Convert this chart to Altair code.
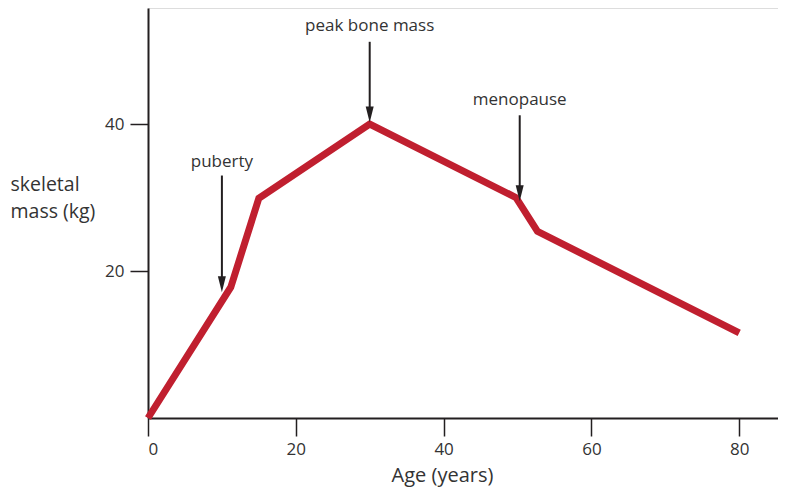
import altair as alt
import pandas as pd

# main curve
age = [0, 11.2, 15.0, 30.0, 49.8, 52.7, 80.0]
mass = [0, 17.8, 29.9, 40.0, 30.0, 25.4, 11.6]

# annotations
ann_label = ["puberty", "peak bone mass", "menopause"]
ann_x = [10, 30, 50.3]
ann_text_y = [34.8, 53.3, 43.3]
ann_top = [33.0, 51.2, 41.2]
ann_tip = [18.2, 41.3, 30.6]

x_ticks = [0, 20, 40, 60, 80]
y_ticks = [20, 40]

FONT = "Open Sans"
TXT = "#333333"
AX = "#231f20"

curve = pd.DataFrame({"age": age, "mass": mass})
ann = pd.DataFrame({"label": ann_label, "x": ann_x, "ty": ann_text_y,
                    "top": ann_top, "tip": ann_tip})

xs = alt.Scale(domain=[0, 85.25], nice=False, zero=False)
ys = alt.Scale(domain=[0, 55.8], nice=False, zero=False)

base = alt.Chart(curve)

line = base.mark_line(color="#c01f2f", strokeWidth=7, strokeJoin="miter", strokeCap="butt").encode(
    x=alt.X("age:Q", scale=xs,
            axis=alt.Axis(values=x_ticks, title="Age (years)", grid=False,
                          domainColor=AX, domainWidth=2, tickColor=AX, tickWidth=1.5,
                          tickSize=18, labelPadding=5, labelFont=FONT, labelFontSize=17,
                          labelColor=TXT, titleFont=FONT, titleFontSize=20,
                          titleFontWeight="normal", titleColor=TXT,
                          titleX=294, titleY=63, titleBaseline="alphabetic",
                          titleAnchor="middle", titleAlign="center")),
    y=alt.Y("mass:Q", scale=ys,
            axis=alt.Axis(values=y_ticks, title=["skeletal", "mass (kg)"], grid=False,
                          domainColor=AX, domainWidth=2, tickColor=AX, tickWidth=1.5,
                          tickSize=18, labelPadding=6, labelFont=FONT, labelFontSize=17,
                          labelColor=TXT, titleFont=FONT, titleFontSize=19.5,
                          titleFontWeight="normal", titleColor=TXT, titleAngle=0,
                          titleAlign="left", titleBaseline="alphabetic",
                          titleX=-138, titleY=182, titleLineHeight=27)),
)

annb = alt.Chart(ann)
shafts = annb.mark_rule(color=AX, strokeWidth=2).encode(
    x=alt.X("x:Q", scale=xs), y=alt.Y("top:Q", scale=ys), y2="tip:Q")
heads = annb.mark_point(shape="M-0.5,-1L0.5,-1L0,1Z", size=256, filled=True,
                        color=AX, opacity=1).encode(
    x=alt.X("x:Q", scale=xs), y=alt.Y("tip:Q", scale=ys))
labels = annb.mark_text(font=FONT, fontSize=17, color=TXT, baseline="middle").encode(
    x=alt.X("x:Q", scale=xs), y=alt.Y("ty:Q", scale=ys), text="label:N")

chart = (line + shafts + heads + labels).properties(
    width=630, height=410,
    autosize=alt.AutoSizeParams(type="none"),
    padding={"left": 140, "top": 0, "right": 0, "bottom": 71},
).configure_view(stroke=None).configure(background="white")

chart.save("out.html", embed_options={"renderer": "svg", "actions": False})
